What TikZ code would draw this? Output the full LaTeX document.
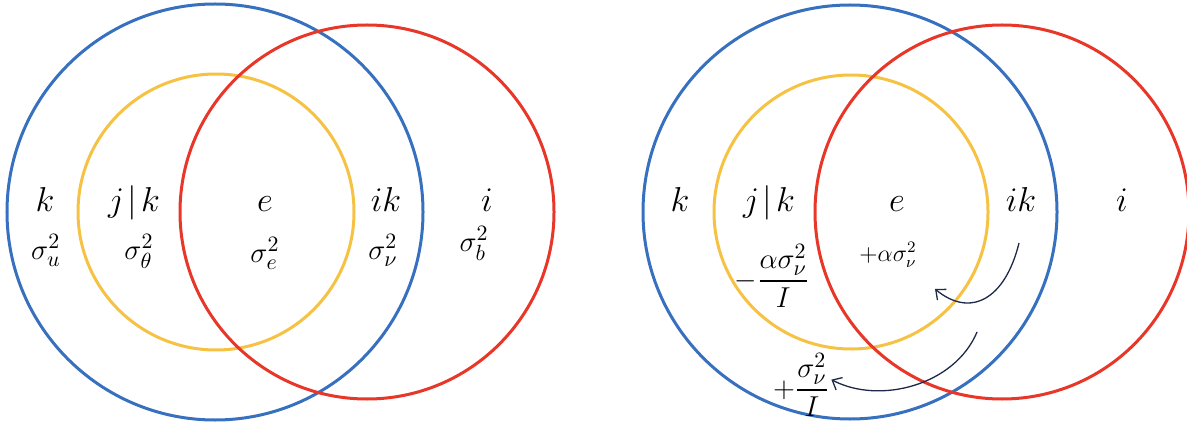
\documentclass[tikz,border=0pt]{standalone}
\usepackage{amsmath,amssymb}
\definecolor{setblue}{RGB}{56,112,192}
\definecolor{setred}{RGB}{232,54,40}
\definecolor{setgold}{RGB}{246,194,68}
\definecolor{arrownavy}{RGB}{30,40,72}
\usetikzlibrary{arrows.meta}

\begin{document}
\begin{tikzpicture}[
    x=0.5pt, y=-0.5pt,
    ring/.style={line width=1.5pt},
    setlab/.style={anchor=base, inner sep=0pt, font=\fontsize{19}{21}\selectfont},
    varlab/.style={anchor=base, inner sep=0pt, font=\fontsize{15}{17}\selectfont},
    adjlab/.style={inner sep=1pt, font=\fontsize{15}{17}\selectfont},
    flow/.style={draw=arrownavy, line width=0.65pt, -{Straight Barb[length=4pt,width=7pt]}}
  ]
  \useasboundingbox (0,0) rectangle (1187,427);

  % left: the variance components
  \draw[ring, setblue] (215,212) circle[radius=104pt];
  \draw[ring, setgold] (216,212) circle[radius=69pt];
  \draw[ring, setred] (367,212) circle[radius=93.5pt];

  \node[setlab] (kL) at (45,212) {$k$};
  \node[setlab] (jkL) at (134,212) {$j\mkern2mu|\mkern2mu k$};
  \node[setlab] (eL) at (265,212) {$e$};
  \node[setlab] (ikL) at (386,212) {$ik$};
  \node[setlab] (iL) at (487,212) {$i$};

  \node[varlab] (uL) at (46,259) {$\sigma_u^2$};
  \node[varlab] (thL) at (139,259) {$\sigma_\theta^2$};
  \node[varlab] (erL) at (265,262) {$\sigma_e^2$};
  \node[varlab] (nuL) at (383,259) {$\sigma_\nu^2$};
  \node[varlab] (bL) at (474,251) {$\sigma_b^2$};

  % right: how the ik part is shared out
  \draw[ring, setblue] (850,212) circle[radius=103.5pt];
  \draw[ring, setgold] (851,212) circle[radius=68.5pt];
  \draw[ring, setred] (1002,212) circle[radius=93.5pt];

  \node[setlab] (kR) at (680,212) {$k$};
  \node[setlab] (jkR) at (769,212) {$j\mkern2mu|\mkern2mu k$};
  \node[setlab] (eR) at (897,212) {$e$};
  \node[setlab] (ikR) at (1021,212) {$ik$};
  \node[setlab] (iR) at (1122,212) {$i$};

  \node[adjlab] (jkadj) at (772,276) {$-\dfrac{\alpha\sigma_\nu^2}{I}$};
  \node[font=\fontsize{12}{14}\selectfont] (eadj) at (888,255) {$+\alpha\sigma_\nu^2$};
  \node[adjlab] (lowfrac) at (801,385) {$+\dfrac{\sigma_\nu^2}{I}$};

  \coordinate (ikup) at (1019,243);
  \coordinate (ikdown) at (977,332);
  \coordinate (etip) at (935,289);
  \draw[flow] (ikup) .. controls (1005,300) and (970,318) .. (etip);
  \draw[flow] (ikdown) .. controls (955,385) and (880,405) .. (lowfrac.10);
\end{tikzpicture}
\end{document}
